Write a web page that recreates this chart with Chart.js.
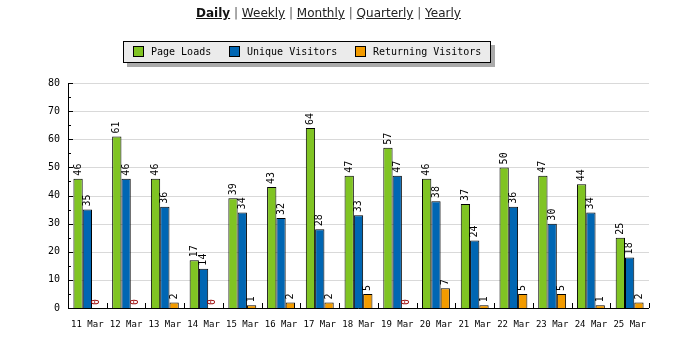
<!DOCTYPE html>
<html>
<head>
<meta charset="utf-8">
<script src="https://cdn.jsdelivr.net/npm/chart.js@4"></script>
<style>
  html, body { margin: 0; padding: 0; background: #fff; }
  #wrap { position: relative; width: 675px; height: 345px; overflow: hidden; }
  #c { position: absolute; left: 0; top: 0; }
  #nav { position: absolute; left: 0; top: 6px; width: 657px; text-align: center;
         font-family: "DejaVu Sans", sans-serif; font-size: 12px; line-height: 15px; color: #222; }
  #nav a { color: #222; text-decoration: underline; }
  #nav b a { font-weight: bold; color: #111; }
  #nav .sep { color: #555; }
  #legend { position: absolute; left: 123px; top: 41px; width: 366px; height: 20px;
            background: #ebebeb; border: 1px solid #000; box-shadow: 4px 4px 0 #aaa;
            font-family: "DejaVu Sans Mono", monospace; font-size: 10px; color: #000; }
  .li { position: absolute; top: 4px; line-height: 12px; white-space: nowrap; }
  .sw { display: inline-block; width: 9px; height: 9px; border: 1px solid #000; vertical-align: -2px; margin-right: 7px; }
</style>
</head>
<body>
<div id="wrap">
  <canvas id="c" width="675" height="345"></canvas>
  <div id="nav"><b><a>Daily</a></b> <span class="sep">|</span> <a>Weekly</a> <span class="sep">|</span> <a>Monthly</a> <span class="sep">|</span> <a>Quarterly</a> <span class="sep">|</span> <a>Yearly</a></div>
  <div id="legend">
    <span class="li" style="left:9px"><span class="sw" style="background:#80c423"></span>Page Loads</span>
    <span class="li" style="left:105px"><span class="sw" style="background:#0066b3"></span>Unique Visitors</span>
    <span class="li" style="left:231px"><span class="sw" style="background:#f29b00"></span>Returning Visitors</span>
  </div>
</div>
<script>
const categories = ["11 Mar","12 Mar","13 Mar","14 Mar","15 Mar","16 Mar","17 Mar","18 Mar","19 Mar","20 Mar","21 Mar","22 Mar","23 Mar","24 Mar","25 Mar"];
const pageLoads = [46,61,46,17,39,43,64,47,57,46,37,50,47,44,25];
const uniqueVisitors = [35,46,36,14,34,32,28,33,47,38,24,36,30,34,18];
const returningVisitors = [0,0,2,0,1,2,2,5,0,7,1,5,5,1,2];
const seriesNames = ["Page Loads","Unique Visitors","Returning Visitors"];
const seriesColors = ["#80c423","#0066b3","#f29b00"];

const mono = "'DejaVu Sans Mono', monospace";

const extras = {
  id: 'extras',
  beforeDatasetsDraw(chart) {
    const ctx = chart.ctx;
    const ca = chart.chartArea;
    const y = chart.scales.y;
    ctx.save();
    ctx.strokeStyle = '#d9d9d9';
    ctx.lineWidth = 1;
    ctx.beginPath();
    for (let v = 10; v <= 80; v += 10) {
      const py = Math.round(y.getPixelForValue(v)) + 0.5;
      ctx.moveTo(ca.left + 5, py);
      ctx.lineTo(ca.right, py);
    }
    ctx.stroke();
    ctx.restore();
  },
  afterDatasetsDraw(chart) {
    const ctx = chart.ctx;
    const ca = chart.chartArea;
    const y = chart.scales.y;
    ctx.save();
    ctx.strokeStyle = '#000';
    ctx.lineWidth = 1;
    ctx.beginPath();
    ctx.moveTo(Math.round(ca.left) + 0.5, ca.top);
    ctx.lineTo(Math.round(ca.left) + 0.5, Math.round(ca.bottom) + 0.5);
    ctx.lineTo(ca.right, Math.round(ca.bottom) + 0.5);
    ctx.stroke();
    ctx.beginPath();
    for (let v = 0; v <= 80; v += 5) {
      const py = Math.round(y.getPixelForValue(v)) + 0.5;
      const len = (v % 10 === 0) ? 5 : 3;
      ctx.moveTo(ca.left, py);
      ctx.lineTo(ca.left + len, py);
    }
    const n = categories.length;
    const w = (ca.right - ca.left) / n;
    for (let i = 1; i <= n; i++) {
      const px = Math.round(ca.left + i * w) + 0.5;
      ctx.moveTo(px, ca.bottom);
      ctx.lineTo(px, ca.bottom - 5);
    }
    ctx.stroke();
    chart.data.datasets.forEach((ds, di) => {
      const meta = chart.getDatasetMeta(di);
      meta.data.forEach((bar, i) => {
        const v = ds.data[i];
        ctx.save();
        ctx.font = "10px " + mono;
        ctx.translate(bar.x, bar.y - 3);
        ctx.rotate(-Math.PI / 2);
        ctx.fillStyle = v === 0 ? '#990000' : '#000';
        ctx.textAlign = 'left';
        ctx.textBaseline = 'middle';
        ctx.fillText(String(v), 0, 0);
        ctx.restore();
      });
    });
    ctx.restore();
  }
};

new Chart(document.getElementById('c'), {
  type: 'bar',
  data: {
    labels: categories,
    datasets: [pageLoads, uniqueVisitors, returningVisitors].map((d, i) => ({
      label: seriesNames[i],
      data: d,
      backgroundColor: seriesColors[i],
      borderColor: '#000',
      borderWidth: 1,
      borderSkipped: 'bottom',
      categoryPercentage: 0.72,
      barPercentage: 1.0
    }))
  },
  options: {
    responsive: false,
    animation: false,
    devicePixelRatio: 1,
    layout: { padding: { left: 0, top: 83, right: 26, bottom: 0 } },
    plugins: { legend: { display: false }, tooltip: { enabled: false } },
    scales: {
      x: {
        grid: { display: false, drawTicks: false },
        border: { display: false },
        ticks: { color: '#000', font: { family: mono, size: 9 }, autoSkip: false, maxRotation: 0, minRotation: 0, padding: 11 },
        afterFit(s) { s.height = 37; }
      },
      y: {
        min: 0, max: 80,
        grid: { display: false, drawTicks: false },
        border: { display: false },
        ticks: { stepSize: 10, color: '#000', font: { family: mono, size: 10 }, padding: 8 },
        afterFit(s) { s.width = 68; }
      }
    }
  },
  plugins: [extras]
});
</script>
</body>
</html>
